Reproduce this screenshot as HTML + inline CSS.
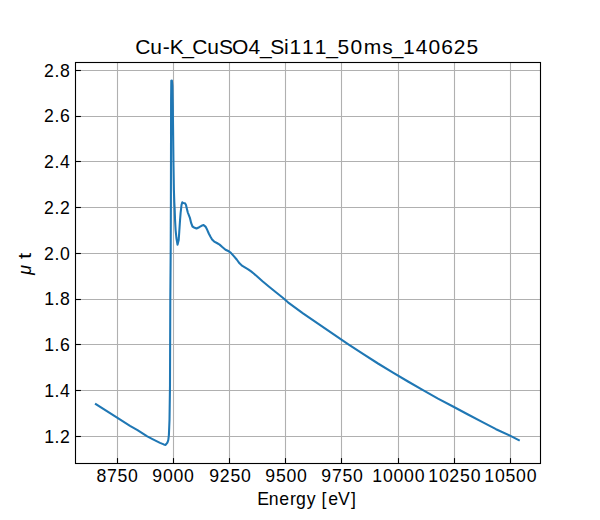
<!DOCTYPE html>
<html><head><meta charset="utf-8"><style>
html,body{margin:0;padding:0;background:#fff;width:600px;height:520px;overflow:hidden}
svg{display:block}
text{font-family:"Liberation Sans",sans-serif;fill:#000}
</style></head><body>
<svg width="600" height="520" viewBox="0 0 600 520">
<rect width="600" height="520" fill="#fff"/>
<g stroke="#b0b0b0" stroke-width="1.11" fill="none">
<line x1="117.5" y1="62" x2="117.5" y2="463.5"/>
<line x1="173.5" y1="62" x2="173.5" y2="463.5"/>
<line x1="229.5" y1="62" x2="229.5" y2="463.5"/>
<line x1="285.5" y1="62" x2="285.5" y2="463.5"/>
<line x1="341.5" y1="62" x2="341.5" y2="463.5"/>
<line x1="398.5" y1="62" x2="398.5" y2="463.5"/>
<line x1="454.5" y1="62" x2="454.5" y2="463.5"/>
<line x1="510.5" y1="62" x2="510.5" y2="463.5"/>
<line x1="75" y1="70.5" x2="540.5" y2="70.5"/>
<line x1="75" y1="116.5" x2="540.5" y2="116.5"/>
<line x1="75" y1="161.5" x2="540.5" y2="161.5"/>
<line x1="75" y1="207.5" x2="540.5" y2="207.5"/>
<line x1="75" y1="253.5" x2="540.5" y2="253.5"/>
<line x1="75" y1="299.5" x2="540.5" y2="299.5"/>
<line x1="75" y1="344.5" x2="540.5" y2="344.5"/>
<line x1="75" y1="390.5" x2="540.5" y2="390.5"/>
<line x1="75" y1="436.5" x2="540.5" y2="436.5"/>
</g>
<path d="M95.90,404.10 L117.50,417.90 L130.00,425.90 L137.50,430.10 L147.25,436.40 L152.50,439.10 L160.00,442.90 L163.75,444.40 L165.60,444.90 L167.40,442.60 L168.30,440.00 L168.90,435.00 L169.20,427.50 L169.50,420.00 L170.00,385.00 L170.30,300.00 L170.70,250.00 L170.90,200.00 L171.00,150.00 L171.10,100.00 L171.30,80.80 L171.90,80.60 L172.40,86.00 L172.80,106.00 L173.30,150.00 L173.50,166.00 L173.90,190.00 L174.30,202.00 L174.70,210.00 L175.05,220.00 L175.60,230.00 L176.40,238.00 L177.50,244.70 L178.70,240.00 L179.25,232.00 L180.05,220.00 L180.60,213.00 L181.00,209.50 L181.50,205.00 L182.30,202.30 L183.30,203.00 L185.00,203.20 L186.00,205.00 L186.80,208.50 L187.80,212.50 L190.00,218.20 L191.20,223.20 L192.50,226.50 L194.60,227.80 L196.50,228.50 L199.20,227.20 L201.50,225.80 L203.60,225.10 L205.50,226.60 L207.20,229.80 L208.80,233.50 L210.50,236.80 L212.10,239.50 L214.20,241.60 L216.90,243.00 L219.60,244.60 L222.30,247.00 L225.50,249.70 L228.80,251.30 L230.90,252.90 L233.80,256.10 L236.70,259.50 L239.50,263.30 L242.40,265.90 L245.30,267.60 L248.20,269.30 L251.10,271.40 L254.00,273.70 L256.90,276.30 L262.50,281.20 L269.10,286.70 L275.60,292.00 L282.20,297.20 L288.00,302.30 L303.00,313.30 L318.00,323.60 L333.00,333.90 L348.00,344.10 L363.00,353.90 L378.00,363.50 L393.00,372.60 L408.00,381.50 L423.00,390.20 L438.00,398.60 L453.00,406.50 L468.00,414.50 L483.00,422.30 L496.00,429.20 L510.50,435.90 L518.80,440.20" fill="none" stroke="#1f77b4" stroke-width="2.08" stroke-linejoin="round" stroke-linecap="square"/>
<g stroke="#000" stroke-width="1.11" fill="none">
<rect x="75.5" y="62.5" width="465" height="401"/>
<line x1="117.5" y1="463" x2="117.5" y2="458.1"/>
<line x1="173.5" y1="463" x2="173.5" y2="458.1"/>
<line x1="229.5" y1="463" x2="229.5" y2="458.1"/>
<line x1="285.5" y1="463" x2="285.5" y2="458.1"/>
<line x1="341.5" y1="463" x2="341.5" y2="458.1"/>
<line x1="398.5" y1="463" x2="398.5" y2="458.1"/>
<line x1="454.5" y1="463" x2="454.5" y2="458.1"/>
<line x1="510.5" y1="463" x2="510.5" y2="458.1"/>
<line x1="76" y1="70.5" x2="80.9" y2="70.5"/>
<line x1="76" y1="116.5" x2="80.9" y2="116.5"/>
<line x1="76" y1="161.5" x2="80.9" y2="161.5"/>
<line x1="76" y1="207.5" x2="80.9" y2="207.5"/>
<line x1="76" y1="253.5" x2="80.9" y2="253.5"/>
<line x1="76" y1="299.5" x2="80.9" y2="299.5"/>
<line x1="76" y1="344.5" x2="80.9" y2="344.5"/>
<line x1="76" y1="390.5" x2="80.9" y2="390.5"/>
<line x1="76" y1="436.5" x2="80.9" y2="436.5"/>
</g>
<g font-size="17.66">
<text x="96.38 106.94 117.47 128.11" y="482.0">8750</text>
<text x="152.34 162.96 173.54 184.11" y="482.0">9000</text>
<text x="209.34 219.74 230.47 241.11" y="482.0">9250</text>
<text x="265.34 275.9 286.54 297.11" y="482.0">9500</text>
<text x="321.34 331.94 342.47 353.11" y="482.0">9750</text>
<text x="372.29 382.96 393.54 404.11 414.69" y="482.0">10000</text>
<text x="428.29 438.96 449.32 460.05 470.69" y="482.0">10250</text>
<text x="484.29 494.96 505.47 516.11 526.69" y="482.0">10500</text>
<text x="44.02 54.61 60.11" y="76.75">2.8</text>
<text x="44.02 54.61 60.11" y="122.48">2.6</text>
<text x="44.02 54.61 60.12" y="168.21">2.4</text>
<text x="44.02 54.61 59.89" y="213.94">2.2</text>
<text x="44.02 54.61 60.11" y="259.67">2.0</text>
<text x="44.15 54.61 60.11" y="305.4">1.8</text>
<text x="44.15 54.61 60.11" y="351.13">1.6</text>
<text x="44.15 54.61 60.12" y="396.86">1.4</text>
<text x="44.15 54.61 59.89" y="442.59">1.2</text>
<text x="257.21 268.81 279.19 289.97 296.0 306.78 316.31 321.54 328.14 337.91 350.94" y="504.9">Energy [eV]</text>
</g>
<g font-size="21.0">
<text x="135.22 150.36 162.7 169.8 182.13 192.2 207.33 219.01 231.96 248.52 259.93 270.17 283.88 289.38 302.11 314.83 326.35 337.59 350.4 363.65 382.18 391.71 402.91 415.75 428.48 441.19 453.65 466.56" y="54.0">Cu-K_CuSO4_Si111_50ms_140625</text>
</g>
<text transform="translate(31,274.7) rotate(-90)" font-size="17.66" font-style="italic">μ</text>
<text transform="translate(31,258.9) rotate(-90) scale(1.26,1)" font-size="17.66">t</text>
</svg>
</body></html>
